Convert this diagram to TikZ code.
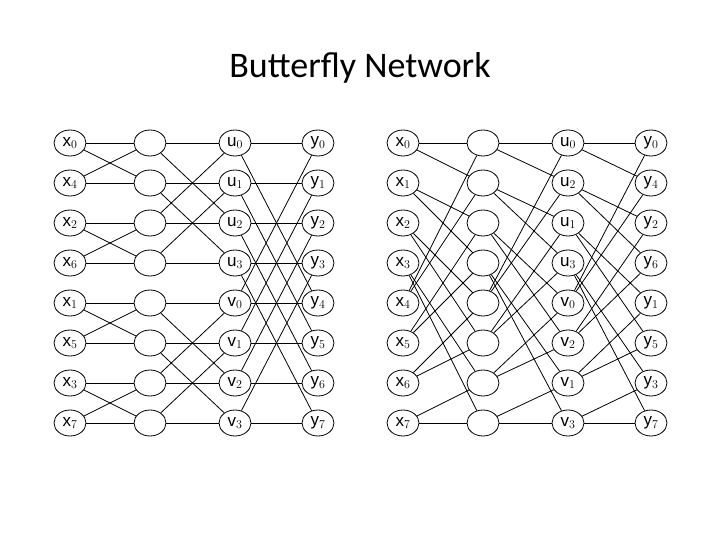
\documentclass[tikz,border=0pt]{standalone}
\usepackage{fontspec}
\setmainfont{Carlito}
\newfontfamily\lab{Liberation Sans}
\usetikzlibrary{shapes.geometric}
\begin{document}
\begin{tikzpicture}[x=1pt,y=-1pt,
  nd/.style={ellipse,draw,line width=0.8pt,minimum width=32pt,minimum height=26pt,inner sep=0pt,font=\lab\fontsize{17}{17}\selectfont},
  ed/.style={line width=0.8pt}]
\useasboundingbox (0,0) rectangle (720,540);
\node (title) at (360,68) {\fontsize{36}{40}\selectfont Butterfly Network};
% left network
\foreach \r/\xl/\ul/\yl in {0/0/u$_0$/0,1/4/u$_1$/1,2/2/u$_2$/2,3/6/u$_3$/3,4/1/v$_0$/4,5/5/v$_1$/5,6/3/v$_2$/6,7/7/v$_3$/7}{
  \node[nd] (La\r) at (70,143+40*\r) {x$_\xl$};
  \node[nd] (Lb\r) at (150,143+40*\r) {};
  \node[nd] (Lc\r) at (235,143+40*\r) {\ul};
  \node[nd] (Ld\r) at (318,143+40*\r) {y$_\yl$};
}
\foreach \r/\a/\b/\c in {0/1/2/4,1/0/3/5,2/3/0/6,3/2/1/7,4/5/6/0,5/4/7/1,6/7/4/2,7/6/5/3}{
  \draw[ed] (La\r) -- (Lb\r); \draw[ed] (La\r) -- (Lb\a);
  \draw[ed] (Lb\r) -- (Lc\r); \draw[ed] (Lb\r) -- (Lc\b);
  \draw[ed] (Lc\r) -- (Ld\r); \draw[ed] (Lc\r) -- (Ld\c);
}
% right network
\foreach \r/\ul/\yl in {0/u$_0$/0,1/u$_2$/4,2/u$_1$/2,3/u$_3$/6,4/v$_0$/1,5/v$_2$/5,6/v$_1$/3,7/v$_3$/7}{
  \node[nd] (Ra\r) at (403,143+40*\r) {x$_\r$};
  \node[nd] (Rb\r) at (483,143+40*\r) {};
  \node[nd] (Rc\r) at (568,143+40*\r) {\ul};
  \node[nd] (Rd\r) at (651,143+40*\r) {y$_\yl$};
}
\foreach \r/\p/\q in {0/0/1,1/2/3,2/4/5,3/6/7,4/0/1,5/2/3,6/4/5,7/6/7}{
  \draw[ed] (Ra\r) -- (Rb\p); \draw[ed] (Ra\r) -- (Rb\q);
  \draw[ed] (Rb\r) -- (Rc\p); \draw[ed] (Rb\r) -- (Rc\q);
  \draw[ed] (Rc\r) -- (Rd\p); \draw[ed] (Rc\r) -- (Rd\q);
}
\end{tikzpicture}
\end{document}
